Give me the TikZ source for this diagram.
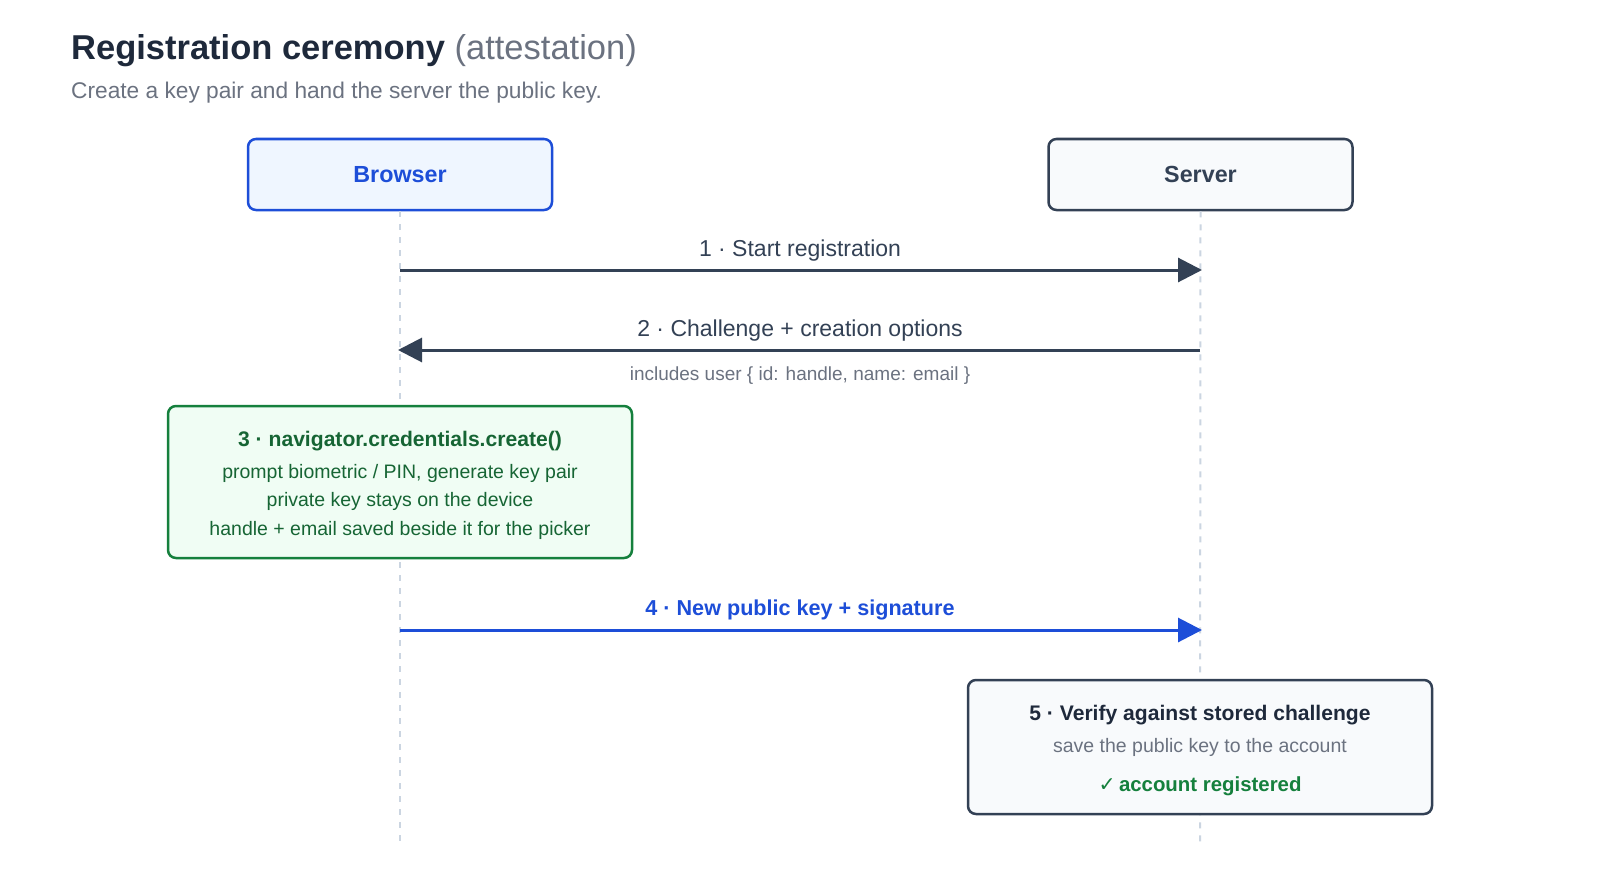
\documentclass[tikz,border=0pt]{standalone}
\usepackage{fontspec}
\setmainfont{Liberation Sans}
\newfontfamily\symfont{DejaVu Sans}
\usetikzlibrary{arrows.meta}
\definecolor{ink}{HTML}{1E293B}
\definecolor{slate}{HTML}{334155}
\definecolor{muted}{HTML}{6B7280}
\definecolor{life}{HTML}{CBD5E1}
\definecolor{blu}{HTML}{1D4ED8}
\definecolor{blufill}{HTML}{EFF6FF}
\definecolor{grn}{HTML}{15803D}
\definecolor{grnfill}{HTML}{F0FDF4}
\definecolor{grntext}{HTML}{166534}
\definecolor{greyfill}{HTML}{F8FAFC}
\tikzset{
  actor/.style={draw, rounded corners=8pt, line width=2.5pt, minimum width=304pt, minimum height=71pt, inner sep=0pt},
  lifeline/.style={draw=life, line width=2pt, dash pattern=on 6pt off 7pt},
  msg/.style={line width=3pt, -{Triangle[length=24pt,width=24pt]}},
  lbl/.style={anchor=base, inner sep=0pt, font=\fontsize{23}{27}\selectfont},
  notebox/.style={draw, rounded corners=8pt, line width=2.5pt, inner sep=0pt},
  txt/.style={anchor=base, inner sep=0pt}
}
\begin{document}
\begin{tikzpicture}[x=1pt,y=-1pt]
\useasboundingbox[fill=white] (0,0) rectangle (1600,872);
% title
\node[txt, anchor=base west] (title) at (71,60) {\fontsize{34.5}{40}\selectfont\bfseries\color{ink}Registration ceremony \mdseries\color{muted}(attestation)};
\node[txt, anchor=base west] (sub) at (71,99) {\fontsize{22.7}{27}\selectfont\color{muted}Create a key pair and hand the server the public key.};
% lifelines
\coordinate (bEnd) at (400,842);
\coordinate (sEnd) at (1200,842);
\node[actor, draw=blu, fill=blufill] (browser) at (400,174.5) {\fontsize{23.3}{28}\selectfont\bfseries\color{blu}Browser};
\node[actor, draw=slate, fill=greyfill] (server) at (1200.5,174.5) {\fontsize{23.3}{28}\selectfont\bfseries\color{slate}Server};
\draw[lifeline] (browser.south) -- (bEnd);
\draw[lifeline] (server.south) -- (sEnd);
% message 1
\coordinate (b1) at (400,270);
\coordinate (s1) at (1202,270);
\draw[msg, slate] (b1) -- (s1);
\node[lbl, text=slate] (l1) at (800,256) {1 · Start registration};
% message 2
\coordinate (s2) at (1200,350);
\coordinate (b2) at (398,350);
\draw[msg, slate] (s2) -- (b2);
\node[lbl, text=slate] (l2) at (800,336) {2 · Challenge + creation options};
\node[txt, text=muted, font=\fontsize{19}{23}\selectfont] (l2b) at (800,380) {includes user \{ id: handle, name: email \}};
% step 3 box
\node[notebox, draw=grn, fill=grnfill, minimum width=464pt, minimum height=152pt] (create) at (400,482) {};
\node[txt, text=grntext, font=\fontsize{21.1}{25}\selectfont\bfseries] (c0) at (400,446) {3 · navigator.credentials.create()};
\node[txt, text=grntext, font=\fontsize{19.5}{23}\selectfont] (c1) at (400,478) {prompt biometric / PIN, generate key pair};
\node[txt, text=grntext, font=\fontsize{19.5}{23}\selectfont] (c2) at (400,506) {private key stays on the device};
\node[txt, text=grntext, font=\fontsize{19.5}{23}\selectfont] (c3) at (400,535) {handle + email saved beside it for the picker};
% message 4
\coordinate (b4) at (400,630);
\coordinate (s4) at (1202,630);
\draw[msg, blu] (b4) -- (s4);
\node[lbl, text=blu, font=\fontsize{21.6}{26}\selectfont\bfseries] (l4) at (800,615) {4 · New public key + signature};
% step 5 box
\node[notebox, draw=slate, fill=greyfill, minimum width=464pt, minimum height=134pt] (verify) at (1200,747) {};
\node[txt, text=ink, font=\fontsize{21.1}{25}\selectfont\bfseries] (v0) at (1200,720) {5 · Verify against stored challenge};
\node[txt, text=muted, font=\fontsize{19.5}{23}\selectfont] (v1) at (1200,752) {save the public key to the account};
\node[txt, text=grn, font=\fontsize{20.4}{24}\selectfont\bfseries] (v2) at (1200,791) {{\symfont ✓}\,account registered};
\end{tikzpicture}
\end{document}
